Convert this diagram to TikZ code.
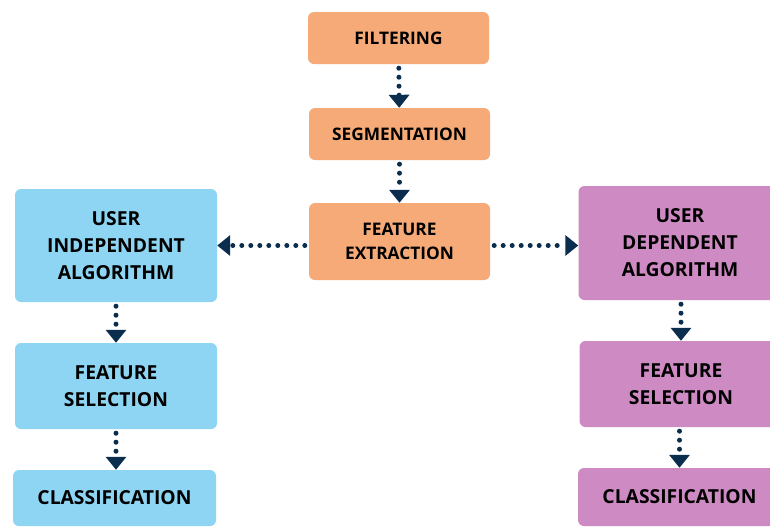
\documentclass[tikz,border=0pt]{standalone}
\usepackage{fontspec}
\setmainfont{Open Sans}
\usetikzlibrary{arrows.meta}

\definecolor{stepor}{HTML}{F5AA78}
\definecolor{stepbl}{HTML}{8DD5F2}
\definecolor{steppu}{HTML}{CE8AC2}
\definecolor{flowcol}{HTML}{0B2E4F}

\tikzset{
  box/.style={rectangle, rounded corners=6pt, align=center, inner sep=0pt,
    font=\fontsize{19.3}{27}\selectfont\bfseries, text=black},
  mainbox/.style={box, fill=stepor, minimum width=181pt,
    font=\fontsize{17.3}{23.5}\selectfont\bfseries},
  flow/.style={flowcol, line width=5pt, line cap=round, dash pattern=on 0pt off 9pt,
    -{Triangle[width=20pt,length=13pt]}, shorten <=4pt}
}

\begin{document}
\begin{tikzpicture}[x=1pt,y=-1pt]
\useasboundingbox (0,0) rectangle (770,528);
\clip (0,0) rectangle (770,528);
\node[mainbox, minimum height=52pt] (filt) at (398.5,38) {FILTERING};
\node[mainbox, minimum height=52pt] (seg) at (399.5,134) {SEGMENTATION};
\node[mainbox, minimum height=77pt] (fe) at (399.5,241.5) {FEATURE\\EXTRACTION};
\node[box, fill=stepbl, minimum width=202pt, minimum height=113pt] (uia) at (116,245.5) {USER\\INDEPENDENT\\ALGORITHM};
\node[box, fill=stepbl, minimum width=202pt, minimum height=86pt] (fsl) at (116,386) {FEATURE\\SELECTION};
\node[box, fill=stepbl, minimum width=203pt, minimum height=56pt] (cll) at (114.5,498) {CLASSIFICATION};
\node[box, fill=steppu, minimum width=203pt, minimum height=114pt] (uda) at (680,243) {USER\\DEPENDENT\\ALGORITHM};
\node[box, fill=steppu, minimum width=203pt, minimum height=86pt] (fsr) at (681,384) {FEATURE\\SELECTION};
\node[box, fill=steppu, minimum width=203pt, minimum height=58pt] (clr) at (679.5,497) {CLASSIFICATION};
\draw[flow] (filt) -- (seg);
\draw[flow] (seg) -- (fe);
\draw[flow] (fe.west |- uia) -- (uia);
\draw[flow] (fe.east |- uia) -- (uda.west |- uia);
\draw[flow] (uia) -- (fsl);
\draw[flow] (fsl) -- (cll.north -| fsl);
\draw[flow] (uda.south -| fsr) -- (fsr);
\draw[flow] (fsr.south -| clr) -- (clr);
\end{tikzpicture}
\end{document}
